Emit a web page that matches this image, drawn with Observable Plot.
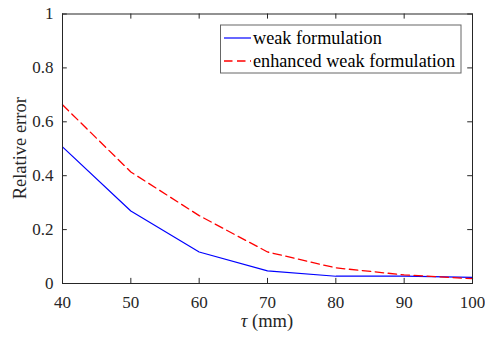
<!DOCTYPE html>
<html>
<head>
<meta charset="utf-8">
<script src="https://cdn.jsdelivr.net/npm/d3@7"></script>
<script src="https://cdn.jsdelivr.net/npm/@observablehq/plot@0.6"></script>
<style>
  body { margin: 0; background: #fff; }
</style>
</head>
<body>
<div id="chart"></div>
<script>
const tau = [40, 50, 60, 70, 80, 90, 100];
const weak = [0.507, 0.269, 0.117, 0.047, 0.027, 0.027, 0.023];
const enhanced = [0.663, 0.414, 0.252, 0.117, 0.058, 0.032, 0.018];
const xTicks = [40, 50, 60, 70, 80, 90, 100];
const yTicks = [0, 0.2, 0.4, 0.6, 0.8, 1];
const seriesNames = ["weak formulation", "enhanced weak formulation"];
const xLabel = ["τ", " (mm)"];
const yLabel = "Relative error";

const weakData = tau.map((t, i) => ({t, v: weak[i]}));
const enhData = tau.map((t, i) => ({t, v: enhanced[i]}));

const axisColor = "#262626";
const font = "Liberation Serif";
const dash = "8.5,4.5";

const plot = Plot.plot({
  width: 485,
  height: 338,
  marginLeft: 62,
  marginRight: 13,
  marginTop: 13.5,
  marginBottom: 55,
  style: "font-family: 'Liberation Serif'; font-size: 17px; background: #fff;",
  x: {domain: [40, 100]},
  y: {domain: [0, 1]},
  marks: [
    Plot.line(weakData, {x: "t", y: "v", stroke: "#0000ff", strokeWidth: 1.2}),
    Plot.line(enhData, {x: "t", y: "v", stroke: "#ff0000", strokeWidth: 1.3, strokeDasharray: dash}),
    // inward ticks on all sides
    Plot.ruleX(xTicks, {x: d => d, y1: 0, y2: 0.019, stroke: axisColor}),
    Plot.ruleX(xTicks, {x: d => d, y1: 1 - 0.019, y2: 1, stroke: axisColor}),
    Plot.ruleY(yTicks, {y: d => d, x1: 40, x2: 40.7, stroke: axisColor}),
    Plot.ruleY(yTicks, {y: d => d, x1: 100 - 0.7, x2: 100, stroke: axisColor}),
    Plot.frame({stroke: axisColor, strokeWidth: 1}),
    Plot.axisX({ticks: xTicks, tickSize: 0, tickPadding: 12, label: null, fill: axisColor,
      fontFamily: font, fontSize: 17, tickFormat: d => String(d)}),
    Plot.axisY({ticks: yTicks, tickSize: 0, tickPadding: 9, label: null, fill: axisColor,
      fontFamily: font, fontSize: 17, tickFormat: d => String(d)})
  ]
});

document.getElementById("chart").appendChild(plot);

const svg = d3.select(plot);
const xs = plot.scale("x"), ys = plot.scale("y");

// axis labels
const xl = svg.append("text")
  .attr("x", (xs.apply(40) + xs.apply(100)) / 2 + 0)
  .attr("y", 327)
  .attr("text-anchor", "middle")
  .attr("font-size", 18.5)
  .attr("fill", axisColor);
xl.append("tspan").attr("font-style", "italic").text(xLabel[0]);
xl.append("tspan").text(xLabel[1]);

const yc = (ys.apply(0) + ys.apply(1)) / 2;
svg.append("text")
  .attr("transform", `translate(26,${yc}) rotate(-90)`)
  .attr("text-anchor", "middle")
  .attr("font-size", 18.5)
  .attr("fill", axisColor)
  .text(yLabel);

// legend
const lg = svg.append("g");
lg.append("rect")
  .attr("x", 220.5).attr("y", 25)
  .attr("width", 240.5).attr("height", 48)
  .attr("fill", "#fff").attr("stroke", "#666").attr("stroke-width", 1);
const items = [
  {name: seriesNames[0], color: "#0000ff", dash: null, w: 1.2},
  {name: seriesNames[1], color: "#ff0000", dash: dash, w: 1.3}
];
items.forEach((it, i) => {
  const yy = 38 + i * 23;
  lg.append("line")
    .attr("x1", 224).attr("x2", 251).attr("y1", yy).attr("y2", yy)
    .attr("stroke", it.color).attr("stroke-width", it.w)
    .attr("stroke-dasharray", it.dash);
  lg.append("text")
    .attr("x", 253).attr("y", yy + 6)
    .attr("text-anchor", "start")
    .attr("font-size", 18.2)
    .attr("fill", "#000")
    .text(it.name);
});

// force serif font on every text
svg.selectAll("text, tspan").style("font-family", "'Liberation Serif', serif");
</script>
</body>
</html>
